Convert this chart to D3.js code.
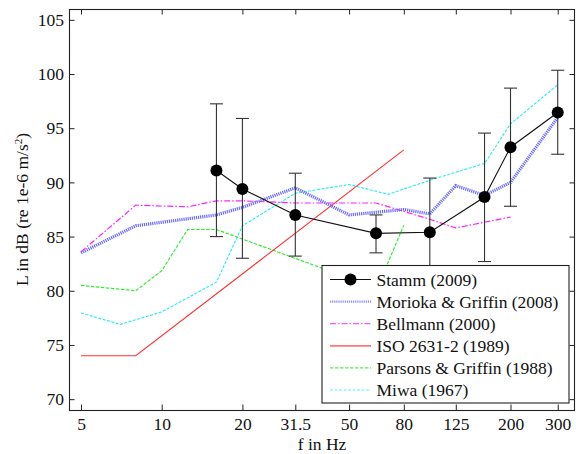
<!DOCTYPE html>
<html>
<head>
<meta charset="utf-8">
<script src="https://cdn.jsdelivr.net/npm/d3@7"></script>
<style>
  html, body { margin: 0; padding: 0; background: #fff; }
  svg { display: block; }
</style>
</head>
<body>
<svg id="chart" width="576" height="454"></svg>
<script>
// ---------- data ----------
const xTickValues = [5, 10, 20, 31.5, 50, 80, 125, 200, 300];
const xTickLabels = ["5", "10", "20", "31.5", "50", "80", "125", "200", "300"];
const yTickValues = [70, 75, 80, 85, 90, 95, 100, 105];

const stammFreq  = [16, 20, 31.5, 63, 100, 160, 200, 300];
const stammMean  = [91.1, 89.4, 87.0, 85.3, 85.4, 88.65, 93.25, 96.45];
const stammUpper = [97.25, 95.9, 90.85, 87.0, 90.4, 94.55, 98.7, 100.35];
const stammLower = [85.0, 83.0, 83.2, 83.5, 80.4, 82.7, 87.8, 92.6];

const moriokaFreq = [5, 8, 16, 20, 31.5, 50, 80, 100, 125, 160, 200, 300];
const moriokaVal  = [83.5, 86.0, 87.0, 87.7, 89.5, 87.0, 87.5, 87.1, 89.7, 88.8, 90.0, 96.0];

const bellmannFreq = [5, 8, 12.5, 16, 20, 31.5, 63, 100, 125, 200];
const bellmannVal  = [83.6, 87.9, 87.75, 88.3, 88.3, 88.1, 88.1, 86.6, 85.8, 86.8];

const isoFreq = [5, 8, 80];
const isoVal  = [74.0, 74.0, 93.0];

const parsonsFreq = [5, 8, 10, 12.5, 16, 40, 63, 80];
const parsonsVal  = [80.5, 80.0, 81.85, 85.65, 85.65, 82.05, 80.0, 86.05];

const miwaFreq = [5, 7, 10, 16, 20, 31.5, 50, 70, 100, 160, 200, 300];
const miwaVal  = [77.95, 76.9, 78.05, 80.8, 86.0, 89.0, 89.8, 88.9, 90.2, 91.75, 95.4, 99.0];

const legendLabels = ["Stamm (2009)", "Morioka & Griffin (2008)", "Bellmann (2000)",
                      "ISO 2631-2 (1989)", "Parsons & Griffin (1988)", "Miwa (1967)"];

// ---------- layout ----------
const pLeft = 69, pRight = 575, pTop = 9, pBottom = 410;
const FONT = '"Liberation Serif", "Times New Roman", Times, serif';
const svg = d3.select("#chart");

const x = d3.scaleLog().domain([4.51, 348]).range([pLeft, pRight]);
const y = d3.scaleLinear().domain([69, 106]).range([pBottom, pTop]);

const styles = {
  morioka:  { stroke: "#6b6bff", width: 3.2, dash: "1.2,0.9" },
  bellmann: { stroke: "#ff22ff", width: 1.2, dash: "6,2,1.5,2" },
  iso:      { stroke: "#ff3030", width: 1.1, dash: null },
  parsons:  { stroke: "#22ee22", width: 1.1, dash: "3.5,1.5" },
  miwa:     { stroke: "#22eeee", width: 1.1, dash: "3,1.5" }
};

const line = d3.line().x(d => x(d[0])).y(d => y(d[1]));
function zip(a, b) { return a.map((v, i) => [v, b[i]]); }

const plot = svg.append("g");
function drawSeries(freq, vals, st) {
  plot.append("path")
    .attr("d", line(zip(freq, vals)))
    .attr("fill", "none")
    .attr("stroke", st.stroke)
    .attr("stroke-width", st.width)
    .attr("stroke-dasharray", st.dash);
}
drawSeries(miwaFreq, miwaVal, styles.miwa);
drawSeries(parsonsFreq, parsonsVal, styles.parsons);
drawSeries(isoFreq, isoVal, styles.iso);
drawSeries(bellmannFreq, bellmannVal, styles.bellmann);
drawSeries(moriokaFreq, moriokaVal, styles.morioka);

// Stamm: error bars, line, markers
const stamm = stammFreq.map((f, i) => ({ f, m: stammMean[i], u: stammUpper[i], l: stammLower[i] }));
const eb = plot.append("g").attr("stroke", "#333").attr("stroke-width", 1.1);
stamm.forEach(d => {
  const cx = x(d.f);
  eb.append("line").attr("x1", cx).attr("x2", cx).attr("y1", y(d.u)).attr("y2", y(d.l));
  eb.append("line").attr("x1", cx - 6.5).attr("x2", cx + 6.5).attr("y1", y(d.u)).attr("y2", y(d.u));
  eb.append("line").attr("x1", cx - 6.5).attr("x2", cx + 6.5).attr("y1", y(d.l)).attr("y2", y(d.l));
});
plot.append("path")
  .attr("d", line(zip(stammFreq, stammMean)))
  .attr("fill", "none").attr("stroke", "#111").attr("stroke-width", 1.1);
plot.selectAll("circle.stamm").data(stamm).enter().append("circle")
  .attr("cx", d => x(d.f)).attr("cy", d => y(d.m)).attr("r", 6).attr("fill", "#000");

// ---------- axes ----------
const axisColor = "#222";
const tickLen = 5.5;
const fontSize = "17.5px";

const xAxisB = d3.axisBottom(x).tickValues(xTickValues).tickFormat((d, i) => xTickLabels[i])
  .tickSizeInner(-tickLen).tickSizeOuter(0).tickPadding(8);
const gxb = svg.append("g").attr("transform", `translate(0,${pBottom})`).call(xAxisB);
const xAxisT = d3.axisTop(x).tickValues(xTickValues).tickFormat("").tickSizeInner(-tickLen).tickSizeOuter(0);
const gxt = svg.append("g").attr("transform", `translate(0,${pTop})`).call(xAxisT);
const yAxisL = d3.axisLeft(y).tickValues(yTickValues).tickFormat(d3.format("d"))
  .tickSizeInner(-tickLen).tickSizeOuter(0).tickPadding(5);
const gyl = svg.append("g").attr("transform", `translate(${pLeft},0)`).call(yAxisL);
const yAxisR = d3.axisRight(y).tickValues(yTickValues).tickFormat("").tickSizeInner(-tickLen).tickSizeOuter(0);
const gyr = svg.append("g").attr("transform", `translate(${pRight},0)`).call(yAxisR);

[gxb, gxt, gyl, gyr].forEach(g => {
  g.attr("font-family", FONT).attr("font-size", fontSize);
  g.select(".domain").remove();
  g.selectAll(".tick line").attr("stroke", axisColor).attr("stroke-width", 1);
  g.selectAll(".tick text").attr("fill", "#111");
});

svg.append("rect")
  .attr("x", pLeft + 0.5).attr("y", pTop + 0.5)
  .attr("width", pRight - pLeft - 1).attr("height", pBottom - pTop)
  .attr("fill", "none").attr("stroke", axisColor).attr("stroke-width", 1.1);

// axis titles
svg.append("text")
  .attr("x", (pLeft + pRight) / 2).attr("y", 449.5)
  .attr("text-anchor", "middle").attr("font-size", fontSize).attr("font-family", FONT).attr("fill", "#111")
  .text("f in Hz");

const yl = svg.append("text")
  .attr("transform", `translate(27.5,${(pTop + pBottom) / 2}) rotate(-90)`)
  .attr("text-anchor", "middle").attr("font-size", fontSize).attr("font-family", FONT).attr("fill", "#111");
yl.append("tspan").text("L in dB (re 1e-6 m/s");
yl.append("tspan").attr("font-size", "11px").attr("dy", "-6").text("2");
yl.append("tspan").attr("dy", "6").text(")");

// ---------- legend ----------
const lg = svg.append("g");
const lx0 = 321.5, ly0 = 265, lw = 247, lh = 137.5;
lg.append("rect").attr("x", lx0 + 0.5).attr("y", ly0 + 0.5).attr("width", lw).attr("height", lh)
  .attr("fill", "#fff").attr("stroke", axisColor).attr("stroke-width", 1.1);
const legendStyles = [
  { stroke: "#111", width: 1.1, dash: null, marker: true },
  { stroke: "#8f8fff", width: 2.2, dash: "1.2,0.9" },
  { stroke: "#ff55ff", width: 1.2, dash: "6,2,1.5,2" },
  { stroke: "#ff7777", width: 1.8, dash: null },
  { stroke: "#55ee55", width: 1.1, dash: "3.5,1.5" },
  { stroke: "#66eeee", width: 1.1, dash: "3,1.5" }
];
legendLabels.forEach((lab, i) => {
  const cy = 279.5 + i * 22.1;
  const st = legendStyles[i];
  lg.append("line").attr("x1", 330).attr("x2", 371).attr("y1", cy).attr("y2", cy)
    .attr("stroke", st.stroke).attr("stroke-width", st.width).attr("stroke-dasharray", st.dash);
  if (st.marker) lg.append("circle").attr("cx", 350.5).attr("cy", cy).attr("r", 6).attr("fill", "#000");
  lg.append("text").attr("x", 376.5).attr("y", cy + 6).attr("font-size", fontSize)
    .attr("font-family", FONT).attr("fill", "#111").text(lab);
});
</script>
</body>
</html>
